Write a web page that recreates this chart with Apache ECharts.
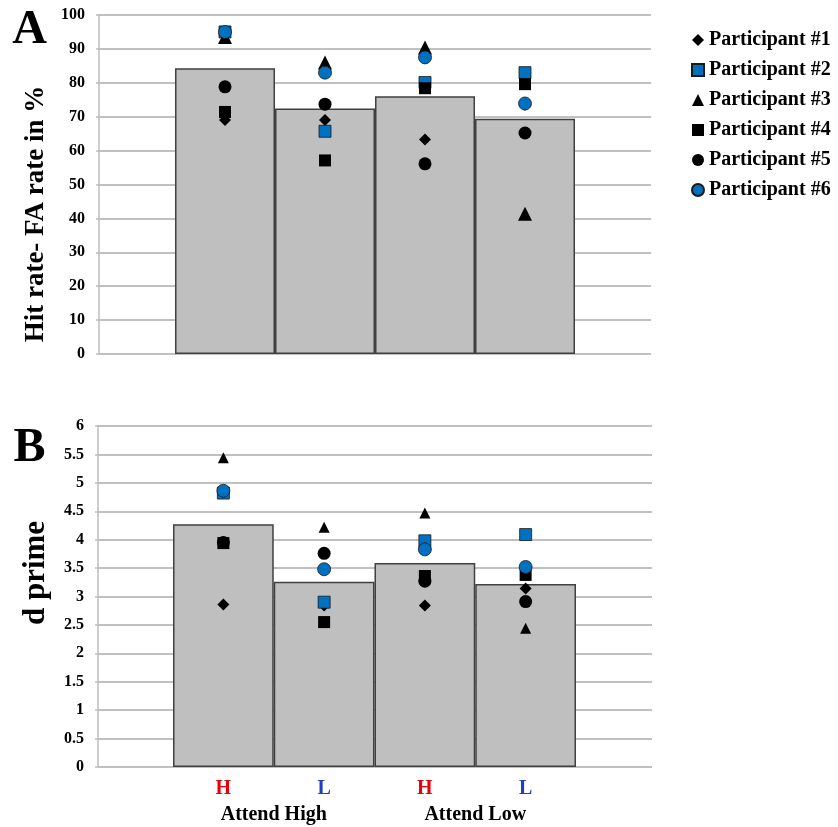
<!DOCTYPE html>
<html>
<head>
<meta charset="utf-8">
<script src="https://cdn.jsdelivr.net/npm/echarts@6/dist/echarts.min.js"></script>
<style>html,body{margin:0;padding:0;background:#fff}#c{width:838px;height:827px}</style>
</head>
<body>
<div id="c"></div>
<script>
var categories = ['H', 'L', 'H', 'L'];
var groupLabels = ['Attend High', 'Attend Low'];
var participants = ['Participant #1', 'Participant #2', 'Participant #3', 'Participant #4', 'Participant #5', 'Participant #6'];

// Panel A: Hit rate - FA rate in %
var barsA = [84.3, 72.4, 76.0, 69.4];
var p1A = [69.0, 69.0, 63.3, 73.5];
var p2A = [95.0, 65.7, 80.1, 83.0];
var p3A = [93.5, 86.0, 90.4, 41.4];
var p4A = [71.4, 57.1, 78.4, 79.6];
var p5A = [78.8, 73.7, 56.1, 65.2];
var p6A = [95.0, 83.0, 87.5, 73.9];

// Panel B: d prime
var barsB = [4.27, 3.26, 3.59, 3.22];
var p1B = [2.86, 2.84, 2.84, 3.14];
var p2B = [4.82, 2.90, 3.98, 4.09];
var p3B = [5.44, 4.22, 4.47, 2.44];
var p4B = [3.94, 2.55, 3.36, 3.38];
var p5B = [3.95, 3.76, 3.27, 2.91];
var p6B = [4.86, 3.48, 3.83, 3.52];

var yTicksA = {min: 0, max: 100, interval: 10};
var yTicksB = {min: 0, max: 6, interval: 0.5};

var FONT = "'Liberation Serif', 'Times New Roman', serif";
var BLUE = '#0070C0';
var symbols = ['diamond', 'rect', 'triangle', 'rect', 'circle', 'circle'];
var colors = ['#000', BLUE, '#000', '#000', '#000', BLUE];
var sizesA = [12, 12, 14, 12, 13, 13];
var sizesB = [12, 12, 11, 12, 13, 13];
var dataA = [p1A, p2A, p3A, p4A, p5A, p6A];
var dataB = [p1B, p2B, p3B, p4B, p5B, p6B];

var chart = echarts.init(document.getElementById('c'), null, {renderer: 'canvas'});

function bgY(grid, t) {
  return {
    type: 'value', gridIndex: grid, min: t.min, max: t.max, interval: t.interval,
    axisLine: {show: true, lineStyle: {color: '#bdbdbd', width: 1.5}},
    axisTick: {show: true, length: 3, lineStyle: {color: '#bdbdbd', width: 1.5}},
    axisLabel: {color: '#000', fontFamily: FONT, fontWeight: 'bold', fontSize: 16, margin: 14},
    splitLine: {show: true, lineStyle: {color: '#ababab', width: 1.6}}
  };
}
function fgY(grid, t) {
  return {type: 'value', gridIndex: grid, min: t.min, max: t.max, interval: t.interval, show: false};
}

var series = [];
series.push({
  type: 'bar', name: 'meanA', xAxisIndex: 1, yAxisIndex: 1, data: barsA,
  barCategoryGap: '0%', itemStyle: {color: '#bfbfbf', borderColor: '#404040', borderWidth: 1.5},
  silent: true, z: 2
});
series.push({
  type: 'bar', name: 'meanB', xAxisIndex: 3, yAxisIndex: 3, data: barsB,
  barCategoryGap: '0%', itemStyle: {color: '#bfbfbf', borderColor: '#404040', borderWidth: 1.5},
  silent: true, z: 2
});
for (var i = 0; i < 6; i++) {
  var st = {color: colors[i], opacity: 1};
  if (colors[i] === BLUE) { st.borderColor = '#1a1a1a'; st.borderWidth = 0.8; }
  series.push({
    type: 'scatter', name: participants[i], xAxisIndex: 1, yAxisIndex: 1,
    data: dataA[i], symbol: symbols[i], symbolSize: sizesA[i], itemStyle: st, z: 3 + i
  });
  series.push({
    type: 'scatter', name: participants[i], xAxisIndex: 3, yAxisIndex: 3,
    data: dataB[i], symbol: symbols[i], symbolSize: sizesB[i], itemStyle: st, z: 3 + i
  });
}

var option = {
  animation: false,
  backgroundColor: '#fff',
  grid: [
    {left: 99, right: 187, top: 15, bottom: 473},
    {left: 175, right: 263, top: 15, bottom: 473},
    {left: 98, right: 186, top: 426, bottom: 60},
    {left: 173, right: 262, top: 426, bottom: 60}
  ],
  xAxis: [
    {type: 'value', gridIndex: 0, show: false, min: 0, max: 1},
    {type: 'category', gridIndex: 1, data: categories, show: false},
    {type: 'value', gridIndex: 2, show: false, min: 0, max: 1},
    {type: 'category', gridIndex: 3, data: categories,
      axisLine: {show: false}, axisTick: {show: false},
      axisLabel: {
        margin: 12,
        formatter: function (v, idx) { return (idx % 2 === 0 ? '{h|' : '{l|') + v + '}'; },
        rich: {
          h: {color: '#e8000b', fontFamily: FONT, fontWeight: 'bold', fontSize: 20},
          l: {color: '#1f3fc0', fontFamily: FONT, fontWeight: 'bold', fontSize: 20}
        }
      }
    },
    {type: 'category', gridIndex: 3, data: groupLabels, position: 'bottom', offset: 30,
      axisLine: {show: false}, axisTick: {show: false},
      axisLabel: {margin: 8, color: '#000', fontFamily: FONT, fontWeight: 'bold', fontSize: 20}
    }
  ],
  yAxis: [bgY(0, yTicksA), fgY(1, yTicksA), bgY(2, yTicksB), fgY(3, yTicksB)],
  legend: {
    data: participants.map(function (n, i) { return {name: n, icon: symbols[i]}; }),
    orient: 'vertical', left: 686, top: 25,
    itemWidth: 12, itemHeight: 12, itemGap: 10, itemTextGap: 8,
    textStyle: {color: '#000', fontFamily: FONT, fontWeight: 'bold', fontSize: 20, lineHeight: 20},
    selectedMode: false
  },
  graphic: [
    {type: 'text', x: 29.5, y: 31, style: {text: 'A', font: "bold 48px " + FONT, fill: '#000', textAlign: 'center', textVerticalAlign: 'middle'}},
    {type: 'text', x: 29.5, y: 449, style: {text: 'B', font: "bold 48px " + FONT, fill: '#000', textAlign: 'center', textVerticalAlign: 'middle'}},
    {type: 'text', x: 36, y: 214, rotation: Math.PI / 2, style: {text: 'Hit rate- FA rate in %', font: "bold 27px " + FONT, fill: '#000', textAlign: 'center', textVerticalAlign: 'middle'}},
    {type: 'text', x: 36, y: 573, rotation: Math.PI / 2, style: {text: 'd prime', font: "bold 31px " + FONT, fill: '#000', textAlign: 'center', textVerticalAlign: 'middle'}}
  ],
  series: series
};
chart.setOption(option);
</script>
</body>
</html>
